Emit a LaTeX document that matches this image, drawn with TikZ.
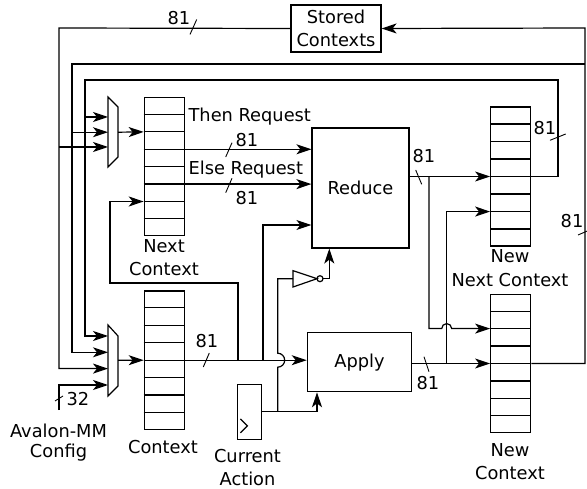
\documentclass[tikz,border=0pt]{standalone}
\usepackage{fontspec}
\setmainfont{DejaVu Sans}
\usetikzlibrary{arrows.meta,calc,positioning}

\newcommand{\rowlines}[1]{%
  \foreach \k in {1,...,7}{%
    \coordinate (#1-w\k) at ($(#1.north west)!\k/8!(#1.south west)$);
    \coordinate (#1-e\k) at ($(#1.north east)!\k/8!(#1.south east)$);
    \draw (#1-w\k) -- (#1-e\k);
  }}

\tikzset{
  block/.style={draw, inner sep=0pt, align=center},
  reg/.style={draw, inner sep=0pt, minimum width=40pt, minimum height=138.4pt},
  lbl/.style={inner sep=0pt, align=center},
  buswidth/.style={line width=0.9pt},
}

\begin{document}
\begin{tikzpicture}[x=1pt, y=-1pt, line width=1.2pt,
  >={Stealth[length=15pt,width=10pt,inset=4pt]},
  font=\fontsize{17.8}{23.5}\selectfont]
\useasboundingbox (0,0) rectangle (587,489);

% blocks and registers
\node[block, minimum width=90pt, minimum height=47pt] (stored) at (336,28.5) {Stored\\Contexts};
\node[block, minimum width=97pt, minimum height=120pt] (reduce) at (360.5,188) {Reduce};
\node[block, minimum width=104.4pt, minimum height=59pt] (apply) at (359.5,362.2) {Apply};
\node[block, minimum width=24.4pt, minimum height=55pt] (curact) at (249.5,411.8) {};
\draw ([shift={(3.7,-7)}]curact.south west) -- ++(7,-7) -- ++(-7,-7);

\node[reg, minimum height=138pt] (nctx) at (164.3,166.7) {};
\node[reg] (ctx) at (164.3,360.2) {};
\node[reg, minimum height=139pt] (nnctx) at (510.7,176.5) {};
\node[reg] (nwctx) at (510.7,363.5) {};
\foreach \r in {nctx,ctx,nnctx,nwctx} {\rowlines{\r}}

% muxes and inverter
\draw (108,97) -- (118,107) -- (118,157) -- (108,167) -- cycle;
\draw (108,325) -- (118,336) -- (118,386) -- (108,396) -- cycle;
\coordinate (ma1) at (108,117);
\coordinate (ma2) at (108,132.2);
\coordinate (ma3) at (108,147);
\coordinate (maout) at (118,132.2);
\coordinate (mb1) at (108,336);
\coordinate (mb2) at (108,352.3);
\coordinate (mb3) at (108,368.6);
\coordinate (mb4) at (108,385);
\coordinate (mbout) at (118,360.2);

\draw (293,270.7) -- (317,278.7) -- (293,287) -- cycle;
\draw (320,278.7) circle[radius=3pt];
\coordinate (notin) at (293,278.7);
\coordinate (notout) at (323,278.7);

% feedback buses
\coordinate (busA) at (59,28);
\coordinate (busB) at (72,64);
\coordinate (busC) at (85,80);
\coordinate (busCr) at (558,80);
\coordinate (busR) at (585,28);
\coordinate (busBr) at (585,64);
\coordinate (avl) at (59,410);

\draw[->] (nwctx-e4) -| (busR) -- (stored.east);
\draw[->] (stored.west) -- (busA) |- (mb3);
\draw[->] (busA |- ma3) -- (ma3);
\draw[->] (busBr) -- (busB) |- (mb2);
\draw[->] (busB |- ma2) -- (ma2);
\draw[->] (nnctx-e4) -| (busCr) -- (busC) |- (mb1);
\draw[->] (busC |- ma1) -- (ma1);
\draw[->] (avl) |- (mb4);

% datapath
\draw[->] (maout) -- (nctx-w2);
\draw[->] (mbout) -- (ctx-w4);
\draw[->] (nctx-e3) -- (nctx-e3 -| reduce.west);
\draw[->] (nctx-e5) -- (nctx-e5 -| reduce.west);
\draw[->] (ctx-e4) -- (ctx-e4 -| apply.west);
\coordinate (ctxtap1) at (ctx-e4 -| 238,0);
\coordinate (ctxtap2) at (ctx-e4 -| 263,0);
\draw[->] (ctxtap1) |- (110,283) |- (nctx-w6);
\draw[->] (ctxtap2) |- (reduce.west |- 0,225);
\draw[->] (curact.east) -| (apply.south -| 317,0);
\coordinate (catap) at (curact.east -| 277.7,0);
\draw (catap) -- ($(catap |- ctx-e4)+(0,7)$) arc[start angle=-90,end angle=90,radius=7pt] |- (notin);
\draw[->] (notout) -| (reduce.south -| 329.3,0);

\draw[->] (reduce.east |- nnctx-w4) -- (nnctx-w4);
\coordinate (rdtap) at (nnctx-w4 -| 429,0);
\draw[->] (apply.east |- nwctx-w4) -- (nwctx-w4);
\coordinate (aptap) at (nwctx-w4 -| 446.7,0);
\draw[->] (aptap) |- (nnctx-w6);
\draw[->] (rdtap) |- ($(aptap |- nwctx-w2)+(-5,0)$) arc[start angle=180,end angle=0,radius=5pt] -- (nwctx-w2);

% bus width marks
\draw[buswidth] (190,34.5) -- (196.7,19.5);
\draw[buswidth] (225.7,157) -- (232,142.7);
\draw[buswidth] (225.7,192.7) -- (232,178.3);
\draw[buswidth] (203.3,367) -- (209.3,353);
\draw[buswidth] (415.7,170) -- (421.7,184.3);
\draw[buswidth] (424,356.7) -- (429,371.7);
\draw[buswidth] (550,140.3) -- (565.7,134);
\draw[buswidth] (578,235) -- (592,229);
\draw[buswidth] (55,401) -- (63,396);

% labels
\node[lbl, anchor=base] (w81top) at (179,25) {81};
\node[lbl, anchor=base west] (lthen) at (188,121.7) {Then Request};
\node[lbl, anchor=base] (w81then) at (247,147) {81};
\node[lbl, anchor=base west] (lelse) at (188,175) {Else Request};
\node[lbl, anchor=base] (w81else) at (247,205) {81};
\node[lbl, anchor=base] (w81rd) at (424,163) {81};
\node[lbl, anchor=base] (w81nn) at (545,135) {81};
\node[lbl, anchor=base] (w81rt) at (572,228) {81};
\node[lbl, anchor=base] (w81ctx) at (207,348) {81};
\node[lbl, anchor=base] (w81ap) at (428,389.3) {81};
\node[lbl, anchor=base] (w32) at (78,405.7) {32};
\node[lbl, anchor=north] (lnctx) at (164,238.5) {Next\\Context};
\node[lbl, anchor=base] (lctx) at (163,453) {Context};
\node[lbl, anchor=north] (lnnctx) at (510,249) {New\\Next Context};
\node[lbl, anchor=north] (lnwctx) at (510,442.5) {New\\Context};
\node[lbl, anchor=north] (lcur) at (247.5,449) {Current\\[-1pt]Action};
\node[lbl, anchor=north] (lavl) at (58.5,423) {Avalon-MM\\[-3pt]Config};
\end{tikzpicture}
\end{document}
